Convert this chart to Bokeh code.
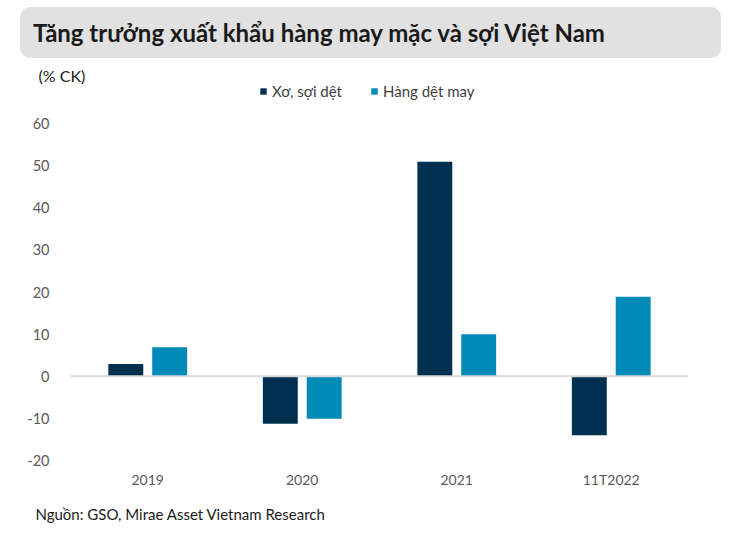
from bokeh.plotting import figure
from bokeh.models import (ColumnDataSource, FactorRange, Range1d, Span, Title, Div,
                          Legend, LegendItem)
from bokeh.layouts import column
from bokeh.transform import dodge
from bokeh.embed import file_html
from bokeh.resources import INLINE

categories = ["2019", "2020", "2021", "11T2022"]
xo_soi_det = [2.9, -11.3, 50.9, -14.0]
hang_det_may = [6.9, -10.1, 10.0, 18.9]
series_names = ["Xơ, sợi dệt", "Hàng dệt may"]
y_ticks = [-20, -10, 0, 10, 20, 30, 40, 50, 60]
y_min, y_max = -20, 60

FONT = "Lato"
DARK = "#00304f"
LIGHT = "#008ab8"

# layout (pixels)
FIG_W, FIG_H = 734, 476
BORDER_L, BORDER_R, BORDER_T, BORDER_B = 70, 46, 22, 74
AXIS_TOP_PX = 43      # distance from frame top to the value y_max
frame_h = FIG_H - BORDER_T - BORDER_B
px_per_unit = (frame_h - AXIS_TOP_PX) / (y_max - y_min)
y_end = y_max + AXIS_TOP_PX / px_per_unit

src = ColumnDataSource(dict(cat=categories, a=xo_soi_det, b=hang_det_may))

p = figure(x_range=FactorRange(*categories), y_range=Range1d(y_min, y_end),
           width=FIG_W, height=FIG_H, output_backend="svg", toolbar_location=None,
           min_border_left=BORDER_L, min_border_right=BORDER_R,
           min_border_top=BORDER_T, min_border_bottom=BORDER_B)
p.outline_line_color = None
p.grid.grid_line_color = None

r1 = p.vbar(x=dodge("cat", -0.142, range=p.x_range), top="a", width=0.226,
            source=src, color=DARK, line_color=None)
r2 = p.vbar(x=dodge("cat", 0.142, range=p.x_range), top="b", width=0.226,
            source=src, color=LIGHT, line_color=None)

p.add_layout(Span(location=0, dimension="width", line_color="#d9d9d9", line_width=2))

for ax in (p.xaxis[0], p.yaxis[0]):
    ax.axis_line_color = None
    ax.major_tick_line_color = None
    ax.minor_tick_line_color = None
    ax.major_label_text_color = "#595959"
    ax.major_label_text_font = FONT
    ax.major_label_text_font_size = "14px"
p.yaxis.ticker = y_ticks
p.yaxis.major_label_overrides = {t: str(t) for t in y_ticks}
p.yaxis.major_label_text_font_size = "14.5px"
p.yaxis.major_label_standoff = 15
p.xaxis.major_label_standoff = 4

legend = Legend(items=[LegendItem(label=series_names[0], renderers=[r1]),
                       LegendItem(label=series_names[1], renderers=[r2])],
                orientation="horizontal", location=(189, frame_h - 20),
                glyph_width=8, glyph_height=8, label_standoff=5, spacing=28,
                padding=0, margin=0, border_line_color=None,
                background_fill_alpha=0,
                label_text_font=FONT, label_text_font_size="15px",
                label_text_color="#404040")
p.add_layout(legend, "center")

p.add_layout(Title(text="(% CK)", align="left", offset=-32, standoff=-9,
                   text_font=FONT, text_font_style="normal", text_font_size="16px",
                   text_color="#1a1a1a"), "above")
p.add_layout(Title(text="Nguồn: GSO, Mirae Asset Vietnam Research", align="left",
                   offset=-35, standoff=24, text_font=FONT, text_font_style="normal",
                   text_font_size="15px", text_color="#1a1a1a"), "below")

title_div = Div(text="Tăng trưởng xuất khẩu hàng may mặc và sợi Việt Nam",
                width=701, height=51, margin=(7, 0, 0, 20),
                styles={"background-color": "#e1e1e1", "border-radius": "10px",
                        "font-family": FONT, "font-weight": "bold",
                        "font-size": "24px", "color": "#1a1a1a",
                        "line-height": "51px", "padding-left": "13px",
                        "box-sizing": "border-box"})

layout = column(title_div, p, spacing=0)
open("out.html", "w").write(file_html(layout, INLINE))
